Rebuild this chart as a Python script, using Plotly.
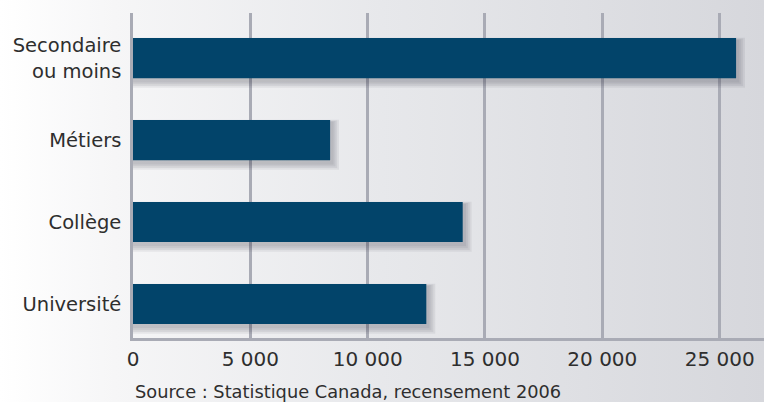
import base64
import plotly.graph_objects as go

categories = ["Université", "Collège", "Métiers", "Secondaire<br>ou moins"]
values = [12500, 14050, 8400, 25700]
tick_vals = [0, 5000, 10000, 15000, 20000, 25000]
tick_text = ["0", "5 000", "10 000", "15 000", "20 000", "25 000"]
source_text = "Source : Statistique Canada, recensement 2006"

BAR_COLOR = "#02446a"
FONT = "DejaVu Sans"
TEXT = "#2e2e2e"
W = 0.49

fig = go.Figure()

# soft drop shadow layers derived from the data
for i in range(1, 5):
    fig.add_trace(go.Bar(
        y=categories, x=[v + 60 + 80 * i for v in values], orientation="h",
        width=W + 0.03 * i, offset=-(W / 2) - 0.03 - 0.022 * i,
        marker=dict(color="rgba(40,40,50,0.07)", line=dict(width=0)),
        hoverinfo="skip", showlegend=False,
    ))

fig.add_trace(go.Bar(
    y=categories, x=values, orientation="h", width=W,
    marker=dict(color=BAR_COLOR, line=dict(width=0)),
    showlegend=False,
))

svg = (
    '<svg xmlns="http://www.w3.org/2000/svg" width="764" height="402">'
    '<defs><linearGradient id="g" x1="0" y1="0" x2="1" y2="0">'
    '<stop offset="0" stop-color="#ffffff"/>'
    '<stop offset="0.15" stop-color="#f6f6f7"/>'
    '<stop offset="0.5" stop-color="#e7e8eb"/>'
    '<stop offset="1" stop-color="#d6d7dc"/>'
    '</linearGradient></defs>'
    '<rect width="764" height="402" fill="url(#g)"/></svg>'
)
src = "data:image/svg+xml;base64," + base64.b64encode(svg.encode()).decode()

L, R, T, B = 133, 0, 13, 64
pw, ph = 764 - L - R, 402 - T - B

fig.update_layout(
    width=764, height=402,
    margin=dict(l=L, r=R, t=T, b=B, pad=0),
    paper_bgcolor="rgba(0,0,0,0)", plot_bgcolor="rgba(0,0,0,0)",
    barmode="overlay",
    separators=", ",
    font=dict(family=FONT, color=TEXT),
    images=[dict(source=src, xref="paper", yref="paper",
                 x=-L / pw, y=1 + T / ph, sizex=764 / pw, sizey=402 / ph,
                 xanchor="left", yanchor="top", sizing="stretch", layer="below")],
    annotations=[dict(text=source_text, xref="paper", yref="paper",
                      x=0, y=-(391 - 338) / ph, xanchor="left", yanchor="middle",
                      showarrow=False, font=dict(family=FONT, size=17.8, color=TEXT))],
)

fig.update_xaxes(
    range=[0, 26890], tickvals=tick_vals, ticktext=tick_text,
    showgrid=True, gridcolor="#a9abb5", gridwidth=2.5,
    showline=True, linecolor="#a9abb5", linewidth=2.5,
    zeroline=False, ticks="outside", ticklen=1, tickcolor="rgba(0,0,0,0)",
    tickfont=dict(family=FONT, size=20, color=TEXT),
)
fig.update_yaxes(
    type="category", categoryorder="array", categoryarray=categories,
    range=[-0.415, 3.55],
    showgrid=False, showline=True, linecolor="#a9abb5", linewidth=2.5,
    ticks="outside", ticklen=5, tickcolor="rgba(0,0,0,0)",
    tickfont=dict(family=FONT, size=19.5, color=TEXT),
)

fig.write_html(
    "out.html",
    config={"displayModeBar": False},
    post_script="document.body.style.margin='0';document.body.style.overflow='hidden';",
)
